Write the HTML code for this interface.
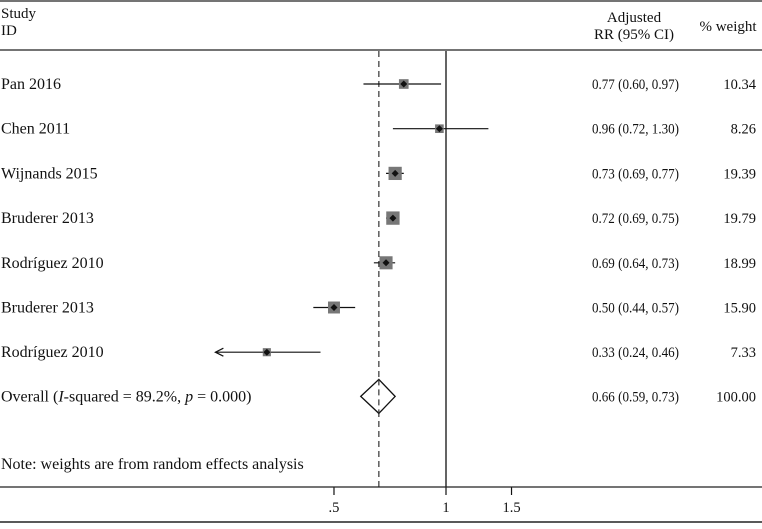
<!DOCTYPE html>
<html><head><meta charset="utf-8"><style>
body{margin:0;background:#fff;}
svg text{font-family:"Liberation Serif",serif;font-size:16px;fill:#111;}
svg text.num{font-size:14.5px;}
svg text.hdr{font-size:15px;}
</style></head><body>
<svg id="chart" width="762" height="524" xmlns="http://www.w3.org/2000/svg">
<line x1="0" y1="1" x2="762" y2="1" stroke="#222" stroke-width="1.2"/>
<line x1="0" y1="50" x2="762" y2="50" stroke="#222" stroke-width="1.2"/>
<text class="hdr" x="1" y="18">Study</text>
<text class="hdr" x="1" y="35">ID</text>
<text class="hdr" x="634" y="22" text-anchor="middle">Adjusted</text>
<text class="hdr" x="634" y="39" text-anchor="middle">RR (95% CI)</text>
<text class="hdr" x="728" y="31" text-anchor="middle">% weight</text>
<g id="plot"></g>
<line x1="0" y1="487" x2="762" y2="487" stroke="#222" stroke-width="1.2"/>
<line x1="0" y1="522" x2="762" y2="522" stroke="#222" stroke-width="1.5"/>
<text x="1" y="469">Note: weights are from random effects analysis</text>
</svg>
<script>
const studies=["Pan 2016","Chen 2011","Wijnands 2015","Bruderer 2013","Rodríguez 2010","Bruderer 2013","Rodríguez 2010"];
const rr=[0.77,0.96,0.73,0.72,0.69,0.50,0.33];
const lo=[0.60,0.72,0.69,0.69,0.64,0.44,0.24];
const hi=[0.97,1.30,0.77,0.75,0.73,0.57,0.46];
const weights=[10.34,8.26,19.39,19.79,18.99,15.90,7.33];
const overall=[0.66,0.59,0.73];
const tickVals=[0.5,1,1.5];
const tickLabels=[".5","1","1.5"];
const axisMin=0.24;
const NS="http://www.w3.org/2000/svg";
const g=document.getElementById("plot");
function xs(v){return 446+161.6*Math.log(Math.max(v,axisMin));}
function ys(i){return 84+44.7*i;}
function mk(t,a,txt){const e=document.createElementNS(NS,t);for(const k in a)e.setAttribute(k,a[k]);if(txt!==undefined)e.textContent=txt;g.appendChild(e);return e;}
const fmt=v=>v.toFixed(2);
let e;
e=mk("line",{x1:xs(1),y1:51,x2:xs(1),y2:487,stroke:"#111","stroke-width":1.3});


e=mk("line",{x1:xs(overall[0]),y1:51,x2:xs(overall[0]),y2:487,stroke:"#333","stroke-width":1.2,"stroke-dasharray":"6,4"});


studies.forEach((s,i)=>{
  const y=ys(i);
  e=mk("text",{x:1,y:y+5},s);
  
  
  e=mk("line",{x1:xs(lo[i]),y1:y,x2:xs(hi[i]),y2:y,stroke:"#111","stroke-width":1.2});
  
  
  const sz=Math.sqrt(weights[i])*3;
  e=mk("rect",{x:xs(rr[i])-sz/2,y:y-sz/2,width:sz,height:sz,fill:"#777"});
  
  
  e=mk("path",{d:`M${xs(rr[i])-3.5},${y} L${xs(rr[i])},${y-3.5} L${xs(rr[i])+3.5},${y} L${xs(rr[i])},${y+3.5}Z`,fill:"#111"});
  
  
  e=mk("text",{x:679,y:y+5,"text-anchor":"end","class":"num",textLength:87,lengthAdjust:"spacingAndGlyphs"},`${fmt(rr[i])} (${fmt(lo[i])}, ${fmt(hi[i])})`);
  
  
  e=mk("text",{x:756,y:y+5,"text-anchor":"end","class":"num"},fmt(weights[i]));
  
  
});
studies.forEach((s,i)=>{
  if(lo[i]<=axisMin){const x=xs(axisMin),y=ys(i);
  e=mk("path",{d:`M${x+8},${y-4} L${x},${y} L${x+8},${y+4}`,fill:"none",stroke:"#111","stroke-width":1.2});
  
  }
});
const oy=ys(7)-0.5;
e=mk("text",{x:1,y:oy+5},"");
e.innerHTML='Overall (<tspan font-style="italic">I</tspan>-squared = 89.2%, <tspan font-style="italic">p</tspan> = 0.000)';


e=mk("path",{d:`M${xs(overall[1])},${oy} L${xs(overall[0])},${oy-17} L${xs(overall[2])},${oy} L${xs(overall[0])},${oy+17}Z`,fill:"#fff",stroke:"#111","stroke-width":1.3});


e=mk("line",{x1:xs(overall[0]),y1:oy-17,x2:xs(overall[0]),y2:oy+17,stroke:"#333","stroke-width":1.2,"stroke-dasharray":"6,4"});


e=mk("text",{x:679,y:oy+5,"text-anchor":"end","class":"num",textLength:87,lengthAdjust:"spacingAndGlyphs"},`${fmt(overall[0])} (${fmt(overall[1])}, ${fmt(overall[2])})`);


e=mk("text",{x:756,y:oy+5,"text-anchor":"end","class":"num"},"100.00");


tickVals.forEach((v,i)=>{
  e=mk("line",{x1:xs(v),y1:487,x2:xs(v),y2:495,stroke:"#111","stroke-width":1.2});
  
  
  e=mk("text",{x:xs(v),y:512,"text-anchor":"middle","class":"num"},tickLabels[i]);
  
  
});
</script>
</body></html>
